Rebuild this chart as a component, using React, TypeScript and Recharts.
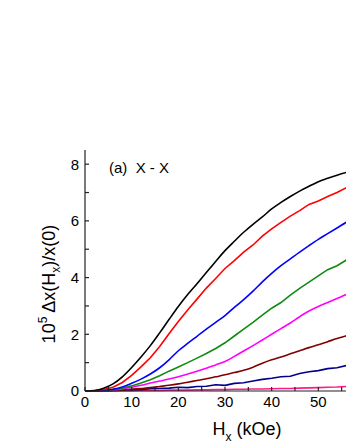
import React from "react";
import { Line, LineChart, XAxis, YAxis } from "recharts";

// field H_x in kOe, 2 kOe steps
const fieldKOe = [0, 2, 4, 6, 8, 10, 12, 14, 16, 18, 20, 22, 24, 26, 28, 30, 32, 34, 36, 38, 40, 42, 44, 46, 48, 50, 52, 54, 56, 58, 60];

const black = [0, 0.02, 0.1, 0.25, 0.5, 0.83, 1.2, 1.6, 2.05, 2.52, 2.98, 3.4, 3.78, 4.18, 4.57, 4.95, 5.28, 5.6, 5.88, 6.14, 6.42, 6.65, 6.86, 7.05, 7.22, 7.38, 7.5, 7.61, 7.71, 7.8, 7.88];
const red = [0, 0.01, 0.05, 0.13, 0.3, 0.55, 0.85, 1.17, 1.57, 2.02, 2.45, 2.86, 3.24, 3.63, 3.97, 4.32, 4.6, 4.9, 5.15, 5.46, 5.72, 5.95, 6.17, 6.36, 6.58, 6.7, 6.86, 7.0, 7.17, 7.27, 7.37];
const blue = [0, 0, 0.02, 0.06, 0.14, 0.27, 0.42, 0.6, 0.82, 1.1, 1.42, 1.68, 1.93, 2.18, 2.42, 2.66, 2.95, 3.22, 3.52, 3.85, 4.15, 4.42, 4.66, 4.9, 5.13, 5.35, 5.55, 5.75, 5.95, 6.1, 6.25];
const green = [0, 0, 0.02, 0.05, 0.1, 0.18, 0.28, 0.4, 0.54, 0.7, 0.85, 1.0, 1.16, 1.32, 1.5, 1.7, 1.94, 2.18, 2.42, 2.68, 2.92, 3.12, 3.38, 3.62, 3.84, 4.06, 4.28, 4.42, 4.62, 4.72, 4.85];
const magenta = [0, 0, 0.01, 0.03, 0.07, 0.13, 0.2, 0.28, 0.35, 0.42, 0.5, 0.6, 0.7, 0.8, 0.92, 1.04, 1.22, 1.41, 1.6, 1.8, 2.0, 2.2, 2.4, 2.62, 2.82, 2.98, 3.12, 3.26, 3.4, 3.52, 3.64];
const brown = [0, 0, 0, 0.01, 0.03, 0.06, 0.09, 0.12, 0.16, 0.2, 0.25, 0.31, 0.37, 0.43, 0.5, 0.57, 0.65, 0.73, 0.84, 0.98, 1.1, 1.2, 1.31, 1.42, 1.53, 1.63, 1.74, 1.85, 1.95, 2.05, 2.15];
const navy = [0, 0.01, 0.02, 0.03, 0.04, 0.05, 0.05, 0.08, 0.09, 0.1, 0.13, 0.12, 0.16, 0.17, 0.22, 0.2, 0.27, 0.29, 0.35, 0.41, 0.45, 0.5, 0.52, 0.62, 0.68, 0.72, 0.79, 0.82, 0.9, 0.93, 0.98];
const pink = [0, 0, 0, 0.01, 0.01, 0.01, 0.02, 0.02, 0.02, 0.03, 0.03, 0.03, 0.04, 0.04, 0.05, 0.05, 0.06, 0.06, 0.07, 0.07, 0.08, 0.09, 0.09, 0.1, 0.11, 0.12, 0.13, 0.14, 0.16, 0.17, 0.18];

const xTicks = [0, 5, 10, 15, 20, 25, 30, 35, 40, 45, 50, 55, 60];
const xLabels = [0, 10, 20, 30, 40, 50];
const yTicks = [0, 1, 2, 3, 4, 5, 6, 7, 8];
const yLabels = [0, 2, 4, 6, 8];

const series = [
  { key: "pink", color: "#ff1a8c", smooth: false },
  { key: "navy", color: "#00008b", smooth: false },
  { key: "brown", color: "#800000", smooth: true },
  { key: "magenta", color: "#ff00ff", smooth: true },
  { key: "green", color: "#108a10", smooth: false },
  { key: "blue", color: "#0000ff", smooth: true },
  { key: "red", color: "#ff0000", smooth: false },
  { key: "black", color: "#000000", smooth: true },
];

const data = fieldKOe.map((h, i) => ({
  h,
  black: black[i],
  red: red[i],
  blue: blue[i],
  green: green[i],
  magenta: magenta[i],
  brown: brown[i],
  navy: navy[i],
  pink: pink[i],
}));

const font = "'Liberation Sans', Arial, sans-serif";
const axisColor = "#222";

export default function App() {
  return (
    <div style={{ position: "absolute", left: 0, top: 0, width: 346, height: 448, overflow: "hidden", background: "#fff" }}>
      <LineChart width={380} height={448} data={data} margin={{ top: 150, right: 15, bottom: 0, left: 0 }}>
        <XAxis
          xAxisId="top"
          orientation="top"
          dataKey="h"
          type="number"
          domain={[0, 60]}
          ticks={xTicks}
          height={0}
          tickSize={-4}
          tickFormatter={() => ""}
          stroke={axisColor}
          strokeWidth={1.2}
        />
        <XAxis
          dataKey="h"
          type="number"
          domain={[0, 60]}
          ticks={xTicks}
          height={57}
          tickSize={-4}
          tickMargin={9}
          tickFormatter={(v: number) => (xLabels.includes(v) ? String(v) : "")}
          tick={{ fill: "#000", fontSize: 15, fontFamily: font }}
          stroke={axisColor}
          strokeWidth={1.2}
        />
        <YAxis
          type="number"
          domain={[0, 8.5]}
          ticks={yTicks}
          width={85}
          tickSize={-4}
          tickMargin={10}
          tickFormatter={(v: number) => (yLabels.includes(v) ? String(v) : "")}
          tick={{ fill: "#000", fontSize: 15, fontFamily: font }}
          stroke={axisColor}
          strokeWidth={1.2}
        />
        {series.map((s) => (
          <Line
            key={s.key}
            dataKey={s.key}
            type={s.smooth ? "monotone" : "linear"}
            stroke={s.color}
            strokeWidth={1.6}
            dot={false}
            isAnimationActive={false}
          />
        ))}
      </LineChart>
      <svg width={346} height={448} style={{ position: "absolute", left: 0, top: 0, pointerEvents: "none" }}>
        <text x={109} y={173} fontSize={15} fontFamily={font} fill="#000">
          (a)&#160;&#160;X - X
        </text>
        <text x={247} y={435} fontSize={18} fontFamily={font} fill="#000" textAnchor="middle">
          H<tspan fontSize={12} dy={6}>x</tspan>
          <tspan dy={-6}> (kOe)</tspan>
        </text>
        <text
          transform="translate(55,284) rotate(-90)"
          fontSize={18}
          fontFamily={font}
          fill="#000"
          textAnchor="middle"
        >
          10<tspan fontSize={12} dy={-8}>5</tspan>
          <tspan dy={8}> Δx(H</tspan>
          <tspan fontSize={12} dy={5}>x</tspan>
          <tspan dy={-5}>)/x(0)</tspan>
        </text>
      </svg>
    </div>
  );
}
